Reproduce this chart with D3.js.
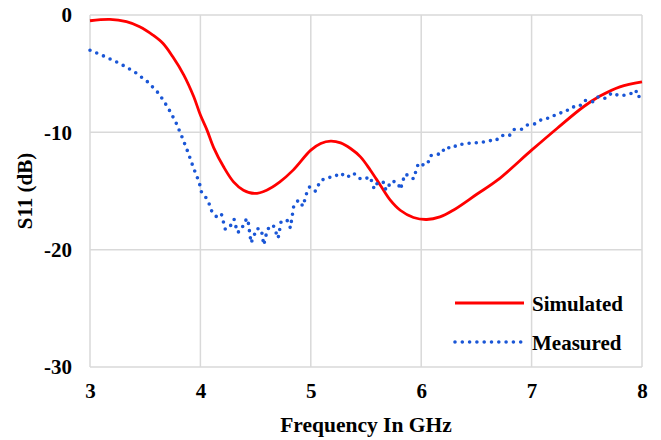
<!DOCTYPE html>
<html>
<head>
<meta charset="utf-8">
<script src="https://cdn.jsdelivr.net/npm/d3@7"></script>
<style>
  html, body { margin: 0; padding: 0; background: #fff; }
</style>
</head>
<body>
<div id="chart"></div>
<script>
// Frequency (GHz) / S11 (dB)
const simFreq = [3.0, 3.18, 3.33, 3.45, 3.57, 3.66, 3.75, 3.85, 3.94, 4.0, 4.06, 4.12, 4.21, 4.3, 4.39, 4.49,
  4.6, 4.72, 4.84, 5.0, 5.09, 5.18, 5.27, 5.36, 5.45, 5.54, 5.63, 5.72, 5.81, 5.93, 6.05, 6.17, 6.29, 6.5,
  6.69, 7.0, 7.23, 7.47, 7.62, 7.8, 8.0];
const simS11 = [-0.49, -0.37, -0.57, -1.0, -1.71, -2.41, -3.56, -5.12, -6.97, -8.53, -9.81, -11.3, -12.94, -14.22, -14.93, -15.21,
  -14.93, -14.22, -13.22, -11.52, -10.95, -10.75, -10.9, -11.38, -12.09, -13.23, -14.51, -15.78, -16.64, -17.26, -17.43, -17.21, -16.64, -15.3,
  -14.08, -11.52, -9.67, -7.82, -6.91, -6.12, -5.69];

const measFreq = [3.0, 3.14, 3.275, 3.405, 3.525, 3.625, 3.707, 3.777, 3.834, 3.888, 3.936, 3.991, 4.006, 4.049, 4.081, 4.106,
  4.148, 4.19, 4.226, 4.27, 4.305, 4.335, 4.371, 4.4, 4.429, 4.459, 4.511, 4.552, 4.574, 4.607, 4.659, 4.704, 4.731, 4.785,
  4.815, 4.846, 4.888, 4.93, 4.958, 4.989, 5.042, 5.087, 5.148, 5.209, 5.266, 5.327, 5.386, 5.435, 5.474, 5.538, 5.574,
  5.607, 5.662, 5.68, 5.734, 5.789, 5.812, 5.852, 5.906, 5.93, 5.975, 6.03, 6.06, 6.081, 6.145, 6.181, 6.217, 6.281, 6.332,
  6.399, 6.465, 6.535, 6.604, 6.673, 6.725, 6.797, 6.843, 6.912, 6.963, 7.036, 7.096, 7.172, 7.232, 7.302, 7.359, 7.432,
  7.48, 7.556, 7.607, 7.67, 7.728, 7.794, 7.849, 7.897, 7.942, 7.969, 8.0];
const measS11 = [-3.0, -3.56, -4.16, -4.86, -5.72, -6.71, -7.91, -9.13, -10.41, -11.71, -12.99, -14.31, -15.02, -15.55, -16.13, -16.81,
  -17.21, -16.95, -18.28, -18.0, -17.41, -18.54, -18.34, -17.58, -17.35, -19.43, -18.2, -18.28, -19.6, -18.26, -17.89, -19.03, -17.6, -17.49,
  -18.15, -16.24, -15.78, -16.3, -15.3, -14.65, -15.02, -14.14, -13.85, -13.82, -13.46, -13.85, -13.46, -13.91, -14.02, -13.8, -14.82,
  -14.25, -14.27, -14.93, -14.14, -14.31, -14.87, -13.57, -13.74, -13.97, -12.63, -12.82, -12.65, -12.0, -11.86, -11.86, -11.26, -11.37, -11.01,
  -11.01, -10.86, -10.92, -10.69, -10.73, -10.26, -10.3, -9.75, -9.73, -9.36, -9.27, -8.87, -8.76, -8.39, -8.28, -7.85, -7.79,
  -7.28, -7.4, -6.94, -7.11, -6.63, -6.89, -6.83, -6.71, -6.4, -7.02, -6.4];

const xTicks = [3, 4, 5, 6, 7, 8];
const yTicks = [0, -10, -20, -30];
const seriesNames = ['Simulated', 'Measured'];

const FONT = "'Liberation Serif', 'Times New Roman', Times, 'DejaVu Serif', serif";
const W = 661, H = 440;
const margin = { top: 15, right: 19, bottom: 73, left: 90 };

const svg = d3.select('#chart').append('svg')
  .attr('width', W)
  .attr('height', H)
  .attr('font-family', FONT)
  .attr('font-weight', 'bold');

const x = d3.scaleLinear().domain([3, 8]).range([margin.left, W - margin.right]);
const y = d3.scaleLinear().domain([-30, 0]).range([H - margin.bottom, margin.top]);

// grid
const grid = svg.append('g').attr('stroke', '#d9d9d9').attr('stroke-width', 1.5);
grid.selectAll('line.v').data(xTicks).join('line')
  .attr('class', 'v')
  .attr('x1', d => x(d)).attr('x2', d => x(d))
  .attr('y1', y(0)).attr('y2', y(-30));
grid.selectAll('line.h').data(yTicks).join('line')
  .attr('class', 'h')
  .attr('x1', x(3)).attr('x2', x(8))
  .attr('y1', d => y(d)).attr('y2', d => y(d));

// axes (labels only)
const xAxis = svg.append('g')
  .attr('transform', `translate(0,${y(-30)})`)
  .call(d3.axisBottom(x).tickValues(xTicks).tickSize(0).tickPadding(16).tickFormat(d => String(d)));
const yAxis = svg.append('g')
  .attr('transform', `translate(${x(3)},0)`)
  .call(d3.axisLeft(y).tickValues(yTicks).tickSize(0).tickPadding(18).tickFormat(d => String(d)));
[xAxis, yAxis].forEach(a => {
  a.attr('font-family', FONT).attr('font-size', null);
  a.select('.domain').remove();
  a.selectAll('text').attr('font-size', 21).attr('fill', '#000');
});

// lines
const line = d3.line().x(d => x(d[0])).y(d => y(d[1]));

svg.append('path')
  .datum(d3.zip(simFreq, simS11))
  .attr('fill', 'none')
  .attr('stroke', '#ff0000')
  .attr('stroke-width', 2.8)
  .attr('d', line.curve(d3.curveCatmullRom.alpha(0.5)));

svg.append('path')
  .datum(d3.zip(measFreq, measS11))
  .attr('fill', 'none')
  .attr('stroke', '#1a56d6')
  .attr('stroke-width', 3.6)
  .attr('stroke-linecap', 'round')
  .attr('stroke-dasharray', '0 7.3')
  .attr('d', line.curve(d3.curveLinear));

// axis titles
svg.append('text')
  .attr('x', 366)
  .attr('y', 431.5)
  .attr('text-anchor', 'middle')
  .attr('font-size', 21.5)
  .text('Frequency In GHz');

svg.append('text')
  .attr('transform', `translate(32,191) rotate(-90)`)
  .attr('text-anchor', 'middle')
  .attr('font-size', 21)
  .text('S11 (dB)');

// legend
const legend = svg.append('g').attr('transform', 'translate(455,303)');
const legendRows = legend.selectAll('g').data(seriesNames).join('g')
  .attr('transform', (d, i) => `translate(0,${i * 39})`);
legendRows.append('line')
  .attr('x1', 0).attr('x2', 69)
  .attr('stroke', (d, i) => i === 0 ? '#ff0000' : '#1a56d6')
  .attr('stroke-width', (d, i) => i === 0 ? 2.8 : 3.6)
  .attr('stroke-linecap', (d, i) => i === 0 ? 'butt' : 'round')
  .attr('stroke-dasharray', (d, i) => i === 0 ? null : '0 7.3');
legendRows.append('text')
  .attr('x', 77)
  .attr('y', 7.5)
  .attr('font-size', 21)
  .text(d => d);
</script>
</body>
</html>
